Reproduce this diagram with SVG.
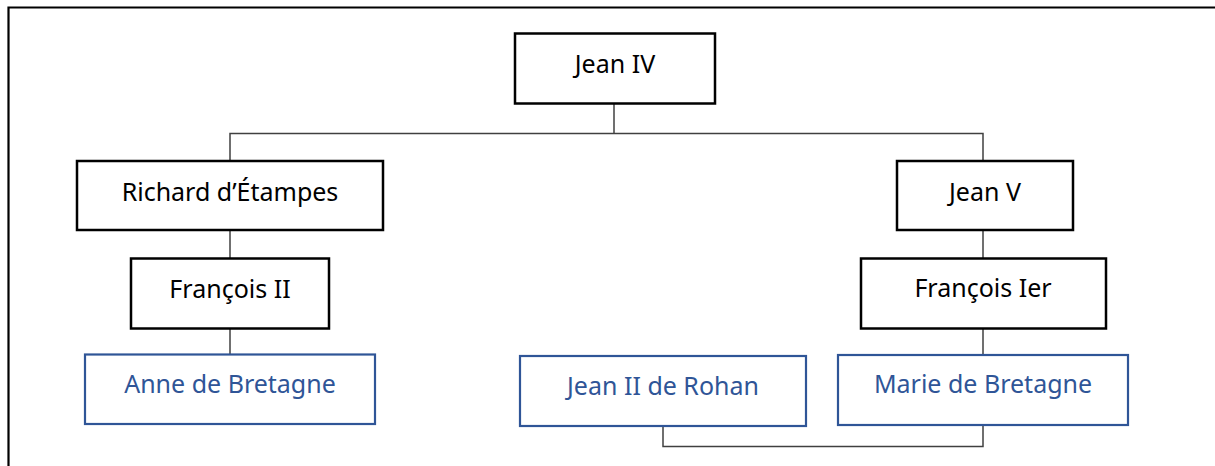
<svg xmlns="http://www.w3.org/2000/svg" width="1215" height="466" viewBox="0 0 1215 466">
<style>
.bg{fill:#ffffff}
.frame{fill:none;stroke:#000;stroke-width:2.2}
.nb{fill:#fff;stroke:#000;stroke-width:2.5}
.nbl{fill:#fff;stroke:#2F5597;stroke-width:2.2}
.t{font-family:"Noto Sans","Open Sans","DejaVu Sans",sans-serif;font-size:25px;text-anchor:middle;fill:#000}
.tb{fill:#2F5597}
.c{fill:none;stroke:#404040;stroke-width:1.5}
</style>
<rect class="bg" x="0" y="0" width="1215" height="466"/>
<path class="frame" d="M8.5,466 V7.5 H1215"/>
<g id="connectors">
<path class="c" d="M614,104 V133.5"/>
<path class="c" d="M230,161 V133.5 H983 V161"/>
<path class="c" d="M230,230 V258"/>
<path class="c" d="M230,328 V354"/>
<path class="c" d="M983,230 V258"/>
<path class="c" d="M983,329 V355"/>
<path class="c" d="M663,426 V446.5 H983 V425"/>
</g>
<g id="jean-iv">
<rect class="nb" x="515" y="33.5" width="200" height="70"/>
<text class="t" x="615" y="73">Jean IV</text>
</g>
<g id="richard-etampes">
<rect class="nb" x="77" y="161" width="306" height="69"/>
<text class="t" x="230" y="201">Richard d’Étampes</text>
</g>
<g id="jean-v">
<rect class="nb" x="897" y="161" width="176" height="69"/>
<text class="t" x="985" y="201">Jean V</text>
</g>
<g id="francois-ii">
<rect class="nb" x="131" y="258.5" width="198" height="70"/>
<text class="t" x="230" y="298">François II</text>
</g>
<g id="francois-ier">
<rect class="nb" x="861" y="258.5" width="245" height="70"/>
<text class="t" x="983" y="297">François Ier</text>
</g>
<g id="anne-de-bretagne">
<rect class="nbl" x="85" y="354.5" width="290" height="69.5"/>
<text class="t tb" x="230" y="393">Anne de Bretagne</text>
</g>
<g id="jean-ii-de-rohan">
<rect class="nbl" x="520" y="356" width="286" height="70"/>
<text class="t tb" x="663" y="395">Jean II de Rohan</text>
</g>
<g id="marie-de-bretagne">
<rect class="nbl" x="838" y="355" width="290" height="70"/>
<text class="t tb" x="983" y="393">Marie de Bretagne</text>
</g>
</svg>
